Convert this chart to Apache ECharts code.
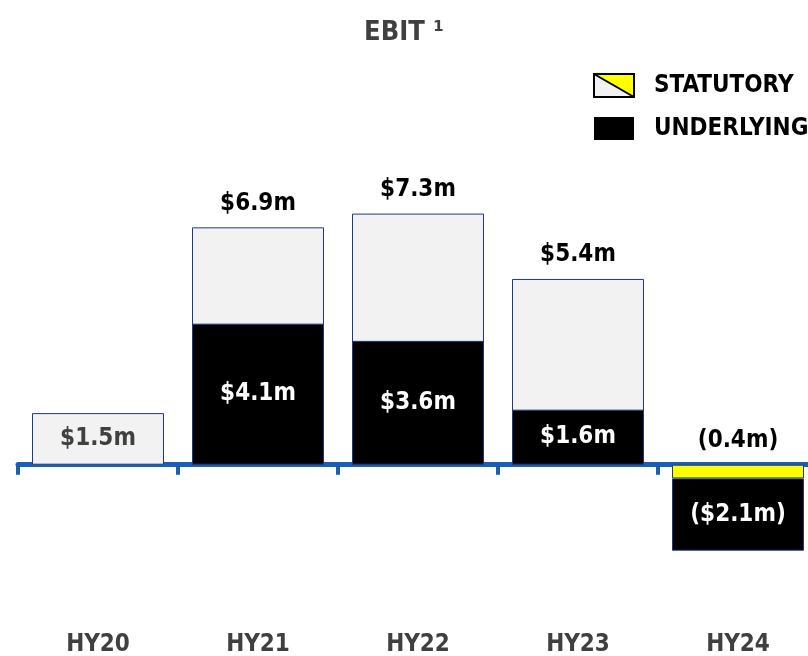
<!DOCTYPE html>
<html>
<head>
<meta charset="utf-8">
<title>EBIT</title>
<script src="https://cdn.jsdelivr.net/npm/echarts@6/dist/echarts.min.js"></script>
<style>
  html, body { margin: 0; padding: 0; background: #fff; }
  #chart { width: 808px; height: 656px; }
</style>
</head>
<body>
<div id="chart"></div>
<script>
// data
const categories = ['HY20', 'HY21', 'HY22', 'HY23', 'HY24'];
const statutory = [1.5, 6.9, 7.3, 5.4, -0.4];
const underlying = [null, 4.1, 3.6, 1.6, -2.1];

const FONT = "'DejaVu Sans Condensed', 'Liberation Sans Narrow', 'DejaVu Sans', sans-serif";
const BORDER = '#1f3a7a';

const money = v => '$' + Math.abs(v).toFixed(1) + 'm';

// positive statutory bars (grey), label inside when there is no underlying bar
const statPos = statutory.map((v, i) => v >= 0 ? {
  value: v,
  label: {
    position: underlying[i] == null ? 'inside' : 'top',
    color: underlying[i] == null ? '#404040' : '#000'
  }
} : '-');
// negative statutory (yellow), stacked with underlying
const statNeg = statutory.map(v => v < 0 ? v : '-');

const chart = echarts.init(document.getElementById('chart'));

const option = {
  animation: false,
  title: {
    text: 'EBIT \u00b9',
    left: 'center',
    top: 14,
    textStyle: { fontFamily: FONT, fontSize: 27, fontWeight: 'bold', color: '#404040' }
  },
  grid: { left: 18, width: 800, top: 189.5, bottom: 53.7, outerBoundsMode: 'none', containLabel: false },
  xAxis: [
    {
      // zero line with ticks
      type: 'category',
      data: categories,
      axisLine: { onZero: true, lineStyle: { color: '#1a5fb4', width: 5 } },
      axisTick: { show: true, length: 10, lineStyle: { color: '#1a5fb4', width: 4 } },
      axisLabel: { show: false }
    },
    {
      // category names at the bottom
      type: 'category',
      data: categories,
      position: 'bottom',
      axisLine: { show: false, onZero: false },
      axisTick: { show: false },
      axisLabel: {
        margin: 30,
        fontFamily: FONT, fontSize: 24, fontWeight: 'bold', color: '#404040'
      }
    }
  ],
  yAxis: {
    type: 'value',
    min: -4, max: 8,
    show: false
  },
  series: [
    {
      name: 'STATUTORY',
      type: 'bar',
      barWidth: 132,
      barGap: '-100%',
      data: statPos,
      itemStyle: { color: '#f2f2f2', borderColor: BORDER, borderWidth: 1 },
      label: {
        show: true,
        distance: 12,
        formatter: p => money(p.value),
        fontFamily: FONT, fontSize: 24, fontWeight: 'bold'
      }
    },
    {
      name: 'STATUTORY',
      type: 'bar',
      stack: 'ebit',
      barWidth: 132,
      barGap: '-100%',
      data: statNeg,
      itemStyle: { color: '#ffff00', borderColor: BORDER, borderWidth: 1 },
      label: {
        show: true,
        position: 'top',
        distance: 12,
        formatter: p => '(' + Math.abs(p.value).toFixed(1) + 'm)',
        fontFamily: FONT, fontSize: 24, fontWeight: 'bold', color: '#000'
      }
    },
    {
      name: 'UNDERLYING',
      type: 'bar',
      stack: 'ebit',
      barWidth: 132,
      barGap: '-100%',
      data: underlying.map(v => v == null ? '-' : v),
      itemStyle: { color: '#000', borderColor: BORDER, borderWidth: 1 },
      label: {
        show: true,
        position: 'inside',
        formatter: p => p.value < 0 ? '(' + money(p.value) + ')' : money(p.value),
        fontFamily: FONT, fontSize: 24, fontWeight: 'bold', color: '#fff'
      }
    }
  ],
  graphic: [
    { type: 'polygon', shape: { points: [[594, 74], [594, 97], [634, 97]] }, style: { fill: '#f2f2f2' } },
    { type: 'polygon', shape: { points: [[594, 74], [634, 74], [634, 97]] }, style: { fill: '#ffff00' } },
    { type: 'line', shape: { x1: 594, y1: 74, x2: 634, y2: 97 }, style: { stroke: '#000', lineWidth: 2 } },
    { type: 'rect', shape: { x: 594, y: 74, width: 40, height: 23 }, style: { fill: null, stroke: '#000', lineWidth: 2 } },
    { type: 'text', x: 654, y: 86, style: { text: 'STATUTORY', fontFamily: FONT, fontSize: 24, fontWeight: 'bold', fill: '#000', verticalAlign: 'middle' } },
    { type: 'rect', shape: { x: 594, y: 117, width: 40, height: 23 }, style: { fill: '#000' } },
    { type: 'text', x: 654, y: 129, style: { text: 'UNDERLYING', fontFamily: FONT, fontSize: 24, fontWeight: 'bold', fill: '#000', verticalAlign: 'middle' } }
  ]
};

chart.setOption(option);
</script>
</body>
</html>
